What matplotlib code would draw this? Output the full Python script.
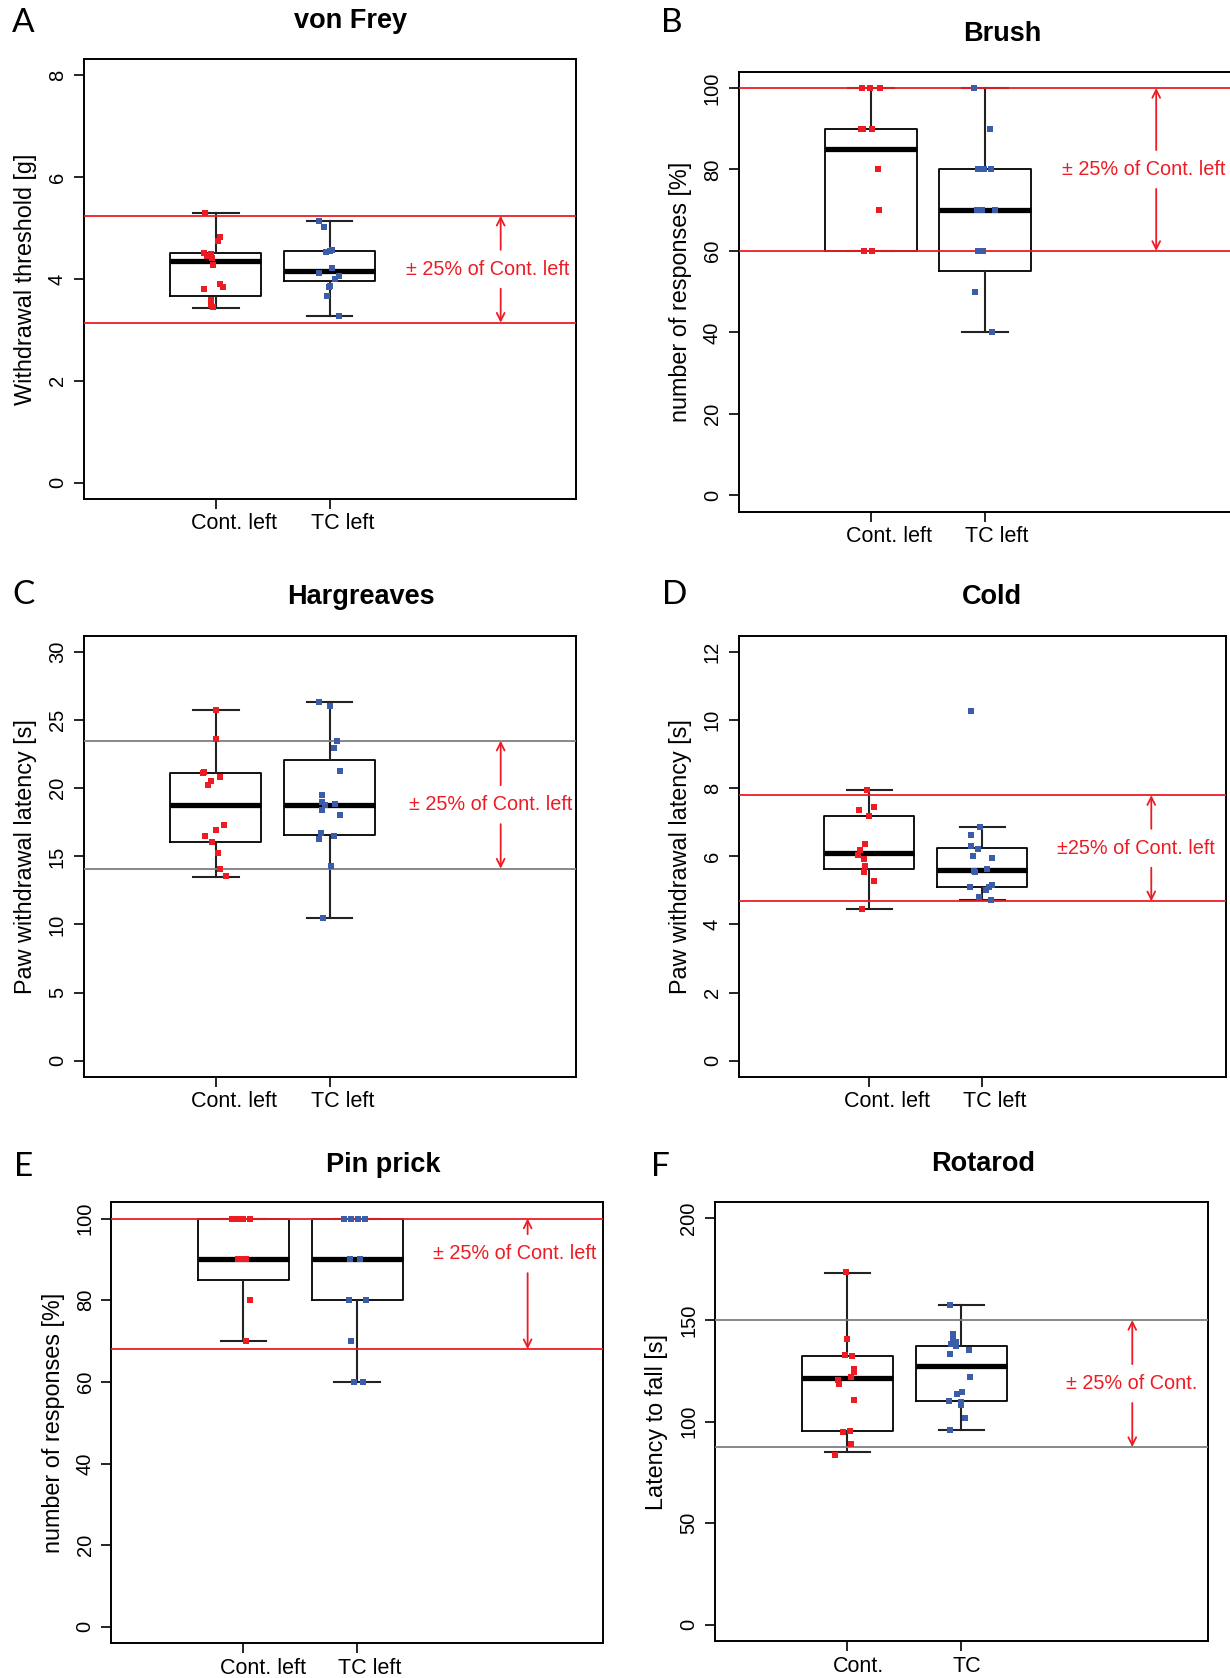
import numpy as np
import matplotlib.pyplot as plt

plt.rcParams['font.family'] = ['Liberation Sans', 'DejaVu Sans']

RED = '#ed1c24'
BLUE = '#3b5ca8'
GREY = '#7f7f7f'

# ---- A: von Frey ----
vf_cont = [5.29, 4.82, 4.74, 4.50, 4.48, 4.44, 4.42, 4.28, 3.90, 3.85, 3.81, 3.59, 3.48, 3.45]
vf_cont_jit = [-0.09, 0.04, 0.02, -0.10, -0.04, -0.08, -0.03, -0.02, 0.04, 0.06, -0.10, -0.04, -0.04, -0.02]
vf_tc = [5.13, 5.01, 4.56, 4.54, 4.52, 4.22, 4.11, 4.05, 4.00, 3.87, 3.85, 3.67, 3.27]
vf_tc_jit = [-0.09, -0.05, 0.02, 0.00, -0.03, 0.02, -0.09, 0.08, 0.05, 0.00, -0.01, -0.02, 0.08]
vf_box_cont = [3.43, 3.67, 4.35, 4.50, 5.29]   # whislo, q1, med, q3, whishi
vf_box_tc = [3.27, 3.95, 4.16, 4.54, 5.14]
vf_band = [3.14, 5.24]

# ---- B: Brush ----
br_cont = [100, 100, 100, 90, 90, 90, 80, 70, 60, 60]
br_cont_jit = [-0.08, -0.01, 0.08, -0.09, -0.07, 0.01, 0.06, 0.07, -0.06, 0.01]
br_tc = [100, 90, 80, 80, 80, 70, 70, 70, 60, 60, 50, 40]
br_tc_jit = [-0.10, 0.04, -0.06, -0.01, 0.05, -0.07, -0.03, 0.09, -0.06, -0.02, -0.09, 0.06]
br_box_cont = [60, 60, 85, 90, 100]
br_box_tc = [40, 55, 70, 80, 100]
br_band = [60, 100]

# ---- C: Hargreaves ----
hg_cont = [25.72, 23.59, 21.18, 21.14, 20.82, 20.57, 20.27, 17.31, 16.94, 16.53, 16.04, 15.23, 14.08, 13.59]
hg_cont_jit = [0.00, 0.00, -0.10, -0.11, 0.04, -0.04, -0.07, 0.07, 0.00, -0.09, -0.03, 0.02, 0.04, 0.09]
hg_tc = [26.38, 26.04, 23.46, 22.97, 21.26, 19.54, 19.00, 18.88, 18.76, 18.40, 18.07, 16.69, 16.52, 16.28, 14.32, 10.48]
hg_tc_jit = [-0.09, 0.00, 0.06, 0.04, 0.09, -0.07, -0.07, 0.05, -0.04, -0.07, 0.09, -0.08, 0.04, -0.09, 0.01, -0.06]
hg_box_cont = [13.51, 16.04, 18.81, 21.14, 25.72]
hg_box_tc = [10.48, 16.60, 18.78, 22.09, 26.38]
hg_band = [14.1, 23.5]

# ---- D: Cold ----
cd_cont = [7.94, 7.45, 7.37, 7.19, 6.35, 6.19, 6.05, 5.93, 5.71, 5.53, 5.29, 4.44]
cd_cont_jit = [-0.02, 0.04, -0.09, 0.00, -0.04, -0.08, -0.10, -0.05, -0.04, -0.05, 0.04, -0.07]
cd_tc = [10.26, 6.87, 6.62, 6.31, 6.21, 6.01, 5.95, 5.62, 5.57, 5.54, 5.16, 5.10, 5.09, 5.01, 4.82, 4.72]
cd_tc_jit = [-0.10, -0.02, -0.10, -0.10, -0.04, -0.08, 0.09, 0.04, -0.07, -0.06, 0.09, -0.11, 0.06, 0.03, -0.03, 0.08]
cd_box_cont = [4.44, 5.64, 6.09, 7.19, 7.94]
cd_box_tc = [4.73, 5.09, 5.60, 6.26, 6.87]
cd_band = [4.68, 7.80]

# ---- E: Pin prick ----
pp_cont = [100, 100, 100, 100, 90, 90, 90, 80, 70]
pp_cont_jit = [-0.10, -0.05, 0.00, 0.06, -0.05, -0.01, 0.02, 0.06, 0.02]
pp_tc = [100, 100, 100, 100, 90, 90, 80, 80, 70, 60, 60]
pp_tc_jit = [-0.11, -0.05, 0.01, 0.07, -0.06, 0.03, -0.07, 0.08, -0.05, -0.03, 0.05]
pp_box_cont = [70, 85, 90, 100, 100]
pp_box_tc = [60, 80, 90, 100, 100]
pp_band = [68, 100]

# ---- F: Rotarod ----
rr_cont = [173.7, 140.7, 132.8, 132.5, 125.9, 124.6, 121.8, 120.5, 118.5, 110.6, 95.6, 95.1, 89.0, 83.6]
rr_cont_jit = [-0.01, 0.00, -0.02, 0.04, 0.06, 0.06, 0.03, -0.08, -0.07, 0.06, 0.02, -0.04, 0.03, -0.11]
rr_tc = [157.4, 143.1, 140.7, 139.0, 138.3, 137.2, 135.4, 133.4, 121.8, 114.5, 113.7, 110.4, 109.6, 108.0, 101.8, 96.0]
rr_tc_jit = [-0.10, -0.07, -0.07, -0.05, -0.09, -0.05, 0.07, -0.10, 0.08, 0.01, -0.04, -0.11, 0.00, 0.00, 0.03, -0.10]
rr_box_cont = [85.3, 95.6, 121.3, 132.5, 173.4]
rr_box_tc = [95.9, 110.0, 127.5, 137.4, 157.4]
rr_band = [87.5, 150.0]

W, H = 1230, 1678
fig = plt.figure(figsize=(W / 100, H / 100), dpi=100)


def stats(b):
    return dict(whislo=b[0], q1=b[1], med=b[2], q3=b[3], whishi=b[4], fliers=[])


def panel(box_px, cont, cont_jit, tc, tc_jit, box_cont, box_tc, band, band_col,
          ymax, ystep, ylabel, xlabels, xlab_off, note, note_x, note_y=None):
    l, t, r, b = box_px
    ax = fig.add_axes([l / W, 1 - b / H, (r - l) / W, (b - t) / H])
    ax.bxp([stats(box_cont), stats(box_tc)], positions=[1, 2], widths=0.8,
           showfliers=False,
           boxprops=dict(color='black', lw=1.3),
           medianprops=dict(color='black', lw=3.8, solid_capstyle='butt'),
           whiskerprops=dict(color='#222222', lw=1.5),
           capprops=dict(color='#222222', lw=1.5), zorder=2)
    for y in band:
        ax.axhline(y, color=band_col, lw=1.3, zorder=3)
    ax.plot(1 + np.array(cont_jit), cont, 's', color=RED, ms=4.9, mew=0, zorder=4)
    ax.plot(2 + np.array(tc_jit), tc, 's', color=BLUE, ms=4.9, mew=0, zorder=4)

    lo, hi = band
    ty = (lo + hi) / 2 if note_y is None else note_y
    for tip in (hi, lo):
        ax.annotate('', xy=(3.5, tip), xytext=(3.5, ty),
                    arrowprops=dict(arrowstyle='->', color=RED, lw=1.3,
                                    shrinkA=14, shrinkB=0, mutation_scale=14))
    ax.text(note_x, ty, note, color=RED, fontsize=14.3, ha='center', va='center')

    ax.set_xlim(-0.16, 4.16)
    ax.set_ylim(-0.04 * ymax, 1.04 * ymax)
    ax.set_yticks(np.arange(0, ymax + ystep / 2, ystep))
    ax.set_xticks([1, 2])
    ax.set_xticklabels(['', ''])
    ax.tick_params(axis='y', labelrotation=90, length=7, width=1.2, labelsize=14.5, pad=5)
    ax.tick_params(axis='x', length=7, width=1.2)
    for lab in ax.get_yticklabels():
        lab.set_va('center')
    for s in ax.spines.values():
        s.set_linewidth(1.4)
    ax.set_ylabel(ylabel, fontsize=16.8, labelpad=8)
    for x, off, txt in zip([1, 2], xlab_off, xlabels):
        ax.annotate(txt, xy=(x + off, 0), xycoords=('data', 'axes fraction'),
                    xytext=(0, -18), textcoords='offset points',
                    ha='center', va='center', fontsize=15.5)
    return ax


panel((83.5, 58.9, 575.9, 498.9), vf_cont, vf_cont_jit, vf_tc, vf_tc_jit,
      vf_box_cont, vf_box_tc, vf_band, RED, 8, 2, 'Withdrawal threshold [g]',
      ['Cont. left', 'TC left'], [0.16, 0.11], '± 25% of Cont. left', 3.39)
panel((738.6, 71.7, 1231.5, 511.7), br_cont, br_cont_jit, br_tc, br_tc_jit,
      br_box_cont, br_box_tc, br_band, RED, 100, 20, 'number of responses [%]',
      ['Cont. left', 'TC left'], [0.16, 0.10], '± 25% of Cont. left', 3.39)
panel((83.5, 635.9, 575.9, 1076.9), hg_cont, hg_cont_jit, hg_tc, hg_tc_jit,
      hg_box_cont, hg_box_tc, hg_band, GREY, 30, 5, 'Paw withdrawal latency [s]',
      ['Cont. left', 'TC left'], [0.16, 0.11], '± 25% of Cont. left', 3.41)
panel((738.6, 635.9, 1225.7, 1076.9), cd_cont, cd_cont_jit, cd_tc, cd_tc_jit,
      cd_box_cont, cd_box_tc, cd_band, RED, 12, 2, 'Paw withdrawal latency [s]',
      ['Cont. left', 'TC left'], [0.16, 0.11], '±25% of Cont. left', 3.36)
panel((111.3, 1202.2, 602.7, 1643.2), pp_cont, pp_cont_jit, pp_tc, pp_tc_jit,
      pp_box_cont, pp_box_tc, pp_band, RED, 100, 20, 'number of responses [%]',
      ['Cont. left', 'TC left'], [0.17, 0.11], '± 25% of Cont. left', 3.39, note_y=91.4)
panel((715.1, 1202.2, 1207.5, 1641.1), rr_cont, rr_cont_jit, rr_tc, rr_tc_jit,
      rr_box_cont, rr_box_tc, rr_band, GREY, 200, 50, 'Latency to fall [s]',
      ['Cont.', 'TC'], [0.10, 0.05], '± 25% of Cont.', 3.49)

titles = ['von Frey', 'Brush', 'Hargreaves', 'Cold', 'Pin prick', 'Rotarod']
title_px = [(351, 21.4), (1002, 34.3), (360.8, 597.3), (992.4, 597.3), (383.2, 1164.7), (982.7, 1163.6)]
for t, (x, y) in zip(titles, title_px):
    fig.text(x / W, 1 - y / H, t, fontsize=19.5, fontweight='bold', ha='center', va='center')

letters = ['A', 'B', 'C', 'D', 'E', 'F']
letter_px = [(23.5, 23.5), (672, 23.5), (23.5, 595), (674.4, 595), (23.5, 1166.8), (660.5, 1166.8)]
for t, (x, y) in zip(letters, letter_px):
    fig.text(x / W, 1 - y / H, t, fontsize=24, family=['Lato', 'DejaVu Sans'],
             ha='center', va='center')

fig.savefig('out.png', dpi=100)
